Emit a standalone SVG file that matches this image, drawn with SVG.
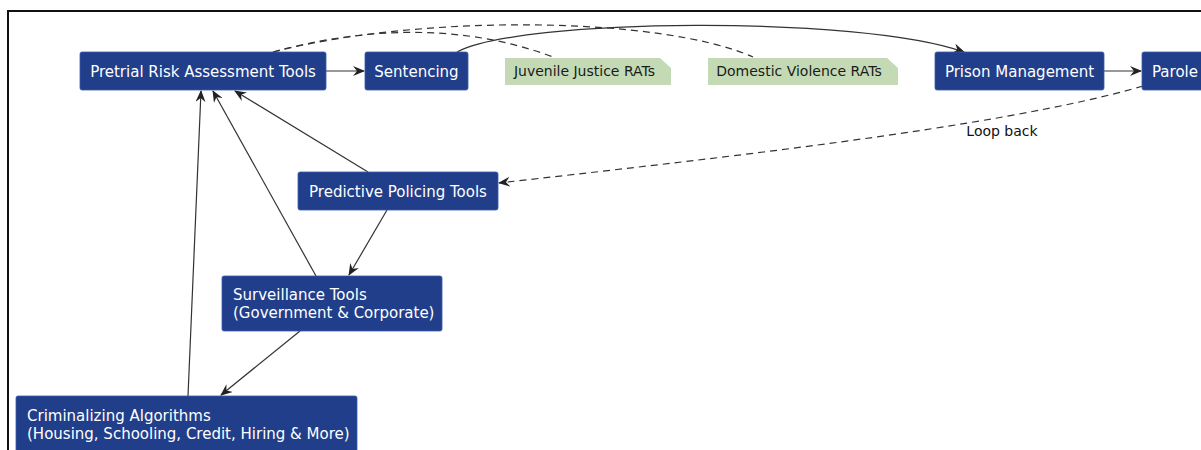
<svg xmlns="http://www.w3.org/2000/svg" width="1201" height="450" viewBox="0 0 1201 450">
<defs>
<style>
.node{fill:#203e8a;stroke:#3a5aa8;stroke-width:0.8}
.note{fill:#c3dab5}
.lbl{font-family:"DejaVu Sans",sans-serif;font-size:15px;fill:#ffffff}
.nlbl{font-family:"DejaVu Sans",sans-serif;font-size:14px;fill:#1a1a1a}
.elbl{font-family:"DejaVu Sans",sans-serif;font-size:14px;fill:#111111}
.e{fill:none;stroke:#333333;stroke-width:1.2}
.d{fill:none;stroke:#333333;stroke-width:1.2;stroke-dasharray:7,5}
</style>
<marker id="arr" viewBox="0 0 12 10" refX="11" refY="5" markerWidth="12" markerHeight="10" markerUnits="userSpaceOnUse" orient="auto">
<path d="M0,0 L12,5 L0,10 L4,5 z" fill="#222222"/>
</marker>
</defs>
<rect x="0" y="0" width="1201" height="450" fill="#ffffff"/>
<rect x="8" y="11" width="1200" height="450" fill="none" stroke="#111111" stroke-width="2"/>

<g id="connectors">
<line class="e" x1="326" y1="71" x2="364" y2="71" marker-end="url(#arr)"/>
<line class="e" x1="1104" y1="71" x2="1141" y2="71" marker-end="url(#arr)"/>
<path class="e" d="M457,52 C520,18 860,15 964,52" marker-end="url(#arr)"/>
<path class="d" d="M273,52 C360,28 460,22 553,57"/>
<path class="d" d="M273,52 C420,14 660,16 753,57"/>
<path class="d" d="M1143,86 C1000,128 700,160 499,183" marker-end="url(#arr)"/>
<line class="e" x1="368" y1="172" x2="235" y2="91" marker-end="url(#arr)"/>
<line class="e" x1="316" y1="276" x2="213" y2="91" marker-end="url(#arr)"/>
<line class="e" x1="188" y1="396" x2="201" y2="91" marker-end="url(#arr)"/>
<line class="e" x1="387" y1="210" x2="349" y2="275" marker-end="url(#arr)"/>
<line class="e" x1="300" y1="331" x2="221" y2="395" marker-end="url(#arr)"/>
<text class="elbl" x="1002" y="136" text-anchor="middle">Loop back</text>
</g>

<g id="pretrial">
<rect class="node" x="80" y="52" width="246" height="38" rx="2"/>
<text class="lbl" x="203" y="76.5" text-anchor="middle">Pretrial Risk Assessment Tools</text>
</g>
<g id="sentencing">
<rect class="node" x="365" y="52" width="103" height="38" rx="2"/>
<text class="lbl" x="416.5" y="76.5" text-anchor="middle">Sentencing</text>
</g>
<g id="juvenile">
<path class="note" d="M505,58 L660,58 L671,68 L671,85 L505,85 z"/>
<text class="nlbl" x="584.5" y="76" text-anchor="middle">Juvenile Justice RATs</text>
</g>
<g id="domestic">
<path class="note" d="M708,58 L887,58 L898,68 L898,85 L708,85 z"/>
<text class="nlbl" x="799" y="76" text-anchor="middle">Domestic Violence RATs</text>
</g>
<g id="prison">
<rect class="node" x="935" y="52" width="169" height="38" rx="2"/>
<text class="lbl" x="1019.5" y="76.5" text-anchor="middle">Prison Management</text>
</g>
<g id="parole">
<rect class="node" x="1142" y="52" width="80" height="38" rx="2"/>
<text class="lbl" x="1152" y="76.5">Parole</text>
</g>
<g id="predictive">
<rect class="node" x="298" y="172" width="200" height="38" rx="2"/>
<text class="lbl" x="398" y="196.5" text-anchor="middle">Predictive Policing Tools</text>
</g>
<g id="surveillance">
<rect class="node" x="222" y="276" width="220" height="55" rx="2"/>
<text class="lbl" x="233" y="299.5">Surveillance Tools</text>
<text class="lbl" x="233" y="317.5">(Government &amp; Corporate)</text>
</g>
<g id="criminalizing">
<rect class="node" x="16" y="396" width="341" height="64" rx="2"/>
<text class="lbl" x="27" y="420.5">Criminalizing Algorithms</text>
<text class="lbl" x="27" y="438.5">(Housing, Schooling, Credit, Hiring &amp; More)</text>
</g>
</svg>
